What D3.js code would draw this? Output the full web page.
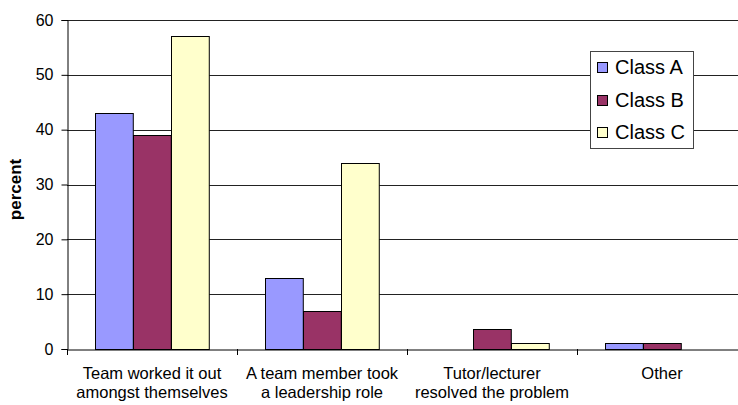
<!DOCTYPE html>
<html>
<head>
<meta charset="utf-8">
<script src="https://cdn.jsdelivr.net/npm/d3@7"></script>
<style>
  html, body { margin: 0; padding: 0; background: #fff; }
  svg { display: block; font-family: Arial, "Liberation Sans", sans-serif; }
</style>
</head>
<body>
<svg id="chart" width="738" height="405"></svg>
<script>
// How conflicts within teams were resolved, by class (percent of responses)
const categories = [
  ["Team worked it out", "amongst themselves"],
  ["A team member took", "a leadership role"],
  ["Tutor/lecturer", "resolved the problem"],
  ["Other"]
];
const seriesNames = ["Class A", "Class B", "Class C"];
const classA = [43, 13, 0, 1.1];
const classB = [39, 7, 3.7, 1.1];
const classC = [57, 34, 1.1, 0];
const yTicks = [0, 10, 20, 30, 40, 50, 60];
const colors = ["#9999FF", "#993366", "#FFFFCC"];

const seriesValues = [classA, classB, classC];
const catKeys = categories.map(c => c.join(" "));

const svg = d3.select("#chart");
const plotLeft = 67, plotRight = 747, plotTop = 20, plotBottom = 349;

const x0 = d3.scaleBand().domain(catKeys).range([plotLeft, plotRight]).padding(0);
const x1 = d3.scaleBand().domain(seriesNames).range([0, x0.bandwidth()])
  .paddingInner(0).paddingOuter(0.75);
const y = d3.scaleLinear().domain([0, 60]).range([plotBottom, plotTop]);

// horizontal gridlines
svg.append("g")
  .selectAll("line")
  .data(yTicks.filter(t => t > 0))
  .join("line")
  .attr("x1", plotLeft).attr("x2", 738)
  .attr("y1", d => Math.round(y(d)) + 0.5).attr("y2", d => Math.round(y(d)) + 0.5)
  .attr("stroke", "#222").attr("stroke-width", 1);

// bars
const groups = svg.append("g").selectAll("g")
  .data(seriesNames)
  .join("g")
  .attr("fill", (d, i) => colors[i]);

groups.selectAll("rect")
  .data((s, si) => seriesValues[si]
    .map((v, ci) => ({ s, v, c: catKeys[ci] }))
    .filter(d => d.v > 0))
  .join("rect")
  .attr("x", d => Math.round(x0(d.c) + x1(d.s)) + 0.5)
  .attr("y", d => Math.round(y(d.v)) + 0.5)
  .attr("width", x1.bandwidth())
  .attr("height", d => Math.round(y(0)) - Math.round(y(d.v)))
  .attr("stroke", "#000").attr("stroke-width", 1);

// y axis
const yAxis = d3.axisLeft(y).tickValues(yTicks).tickSize(6).tickPadding(8)
  .tickFormat(d3.format("d"));
const gy = svg.append("g")
  .attr("transform", `translate(${plotLeft + 0.5},0)`)
  .call(yAxis);
gy.select(".domain").attr("stroke", "#000");
gy.selectAll(".tick line").attr("stroke", "#000");
gy.selectAll(".tick text")
  .attr("font-size", 16).attr("fill", "#000")
  .attr("font-family", "Arial, 'Liberation Sans', sans-serif");

// x axis
const xAxis = d3.axisBottom(x0).tickSize(0).tickFormat("");
const gx = svg.append("g")
  .attr("transform", `translate(0,${plotBottom + 0.5})`)
  .call(xAxis);
gx.select(".domain").attr("stroke", "#000");
gx.selectAll(".tick").remove();
svg.append("g").selectAll("line")
  .data(catKeys)
  .join("line")
  .attr("x1", d => Math.round(x0(d)) + 0.5).attr("x2", d => Math.round(x0(d)) + 0.5)
  .attr("y1", plotBottom).attr("y2", plotBottom + 6)
  .attr("stroke", "#000");

// category labels
const catLabels = svg.append("g")
  .attr("font-size", 16.5).attr("text-anchor", "middle").attr("fill", "#000");
categories.forEach((lines, ci) => {
  const cx = x0(catKeys[ci]) + x0.bandwidth() / 2;
  const t = catLabels.append("text").attr("x", cx);
  lines.forEach((ln, li) => {
    t.append("tspan")
      .attr("x", cx)
      .attr("y", 379 + li * 19)
      .text(ln);
  });
});

// y axis title
svg.append("text")
  .attr("transform", `translate(21,${(plotTop + plotBottom) / 2 + 5}) rotate(-90)`)
  .attr("text-anchor", "middle")
  .attr("font-size", 17).attr("font-weight", "bold")
  .text("percent");

// legend
const legend = svg.append("g");
legend.append("rect")
  .attr("x", 590.5).attr("y", 51.5).attr("width", 103).attr("height", 97)
  .attr("fill", "#fff").attr("stroke", "#444");
seriesNames.forEach((name, i) => {
  const base = 74 + i * 32.5;
  legend.append("rect")
    .attr("x", 597.5).attr("y", Math.round(base - 12) + 0.5).attr("width", 10).attr("height", 10)
    .attr("fill", colors[i]).attr("stroke", "#000");
  legend.append("text")
    .attr("x", 615).attr("y", base)
    .attr("font-size", 20).attr("fill", "#000")
    .text(name);
});
</script>
</body>
</html>
